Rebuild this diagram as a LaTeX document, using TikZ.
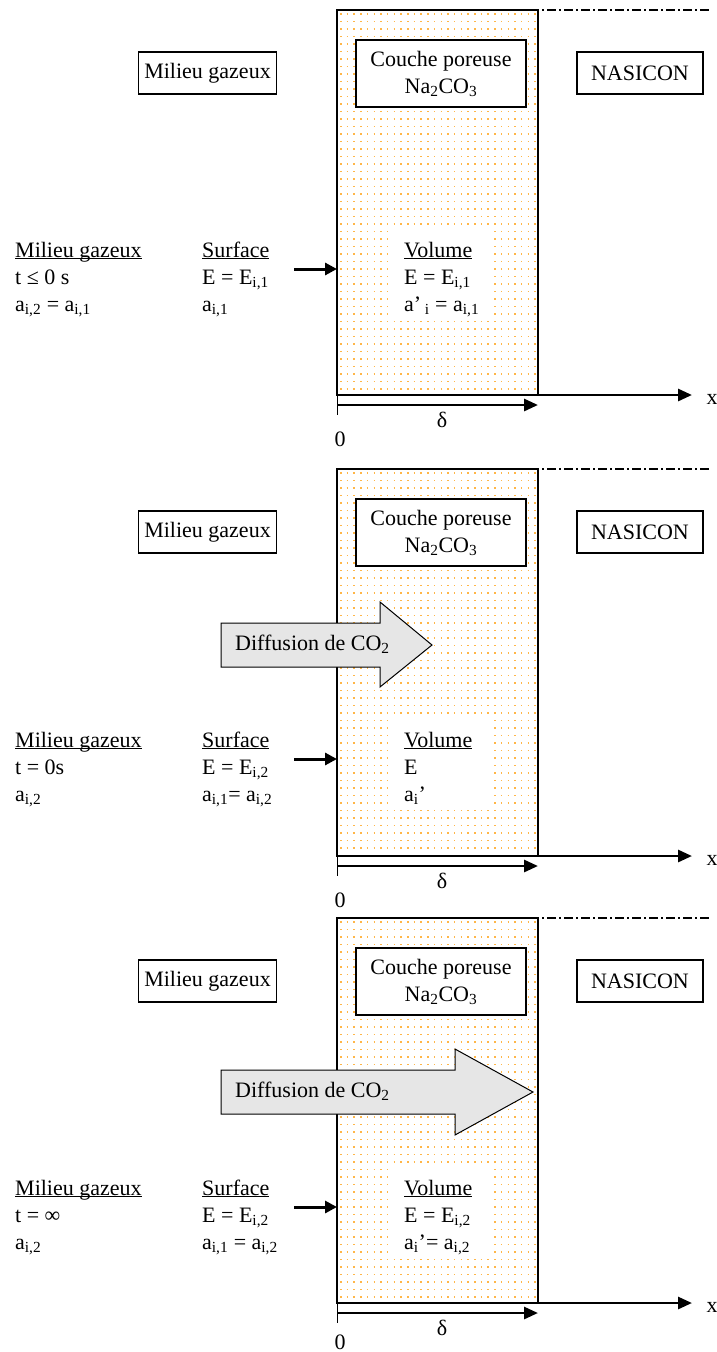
\documentclass[tikz,border=0pt]{standalone}
\usepackage{fontspec}
\setmainfont{Liberation Serif}
\usetikzlibrary{arrows.meta}
\definecolor{pore}{RGB}{255,182,72}
\definecolor{fleche}{RGB}{230,230,230}
\newcommand{\subi}[1]{\textsubscript{#1}}
\newcommand{\souligne}[1]{\underline{\smash{#1}}}

\begin{document}
\begin{tikzpicture}[
    x=1pt, y=-1pt,
    every node/.style={font=\fontsize{22}{27}\selectfont},
    boite/.style={draw, line width=1.2pt, fill=white, align=center, inner sep=0pt},
    bloc/.style={align=left, anchor=base west, inner sep=0pt},
    zone/.style={fill=white},
    couche/.style={draw, line width=1.2pt},
    axe/.style={line width=2.8pt, -{Triangle[length=14pt,width=12pt]}},
    fl/.style={line width=3pt, -{Triangle[length=12pt,width=12pt]}},
    diff/.style={draw, line width=1pt, fill=fleche}
  ]
  \useasboundingbox (0,0) rectangle (716,1352);

  % les trois etats : haut de la couche, axe x, ligne de base du texte, position du 0
  \foreach \p/\T/\A/\B/\Z in {1/10/395/257/44, 2/469/856/747/44, 3/918/1303/1195/39} {
    % couche poreuse pointillee
    \foreach \yy in {4,11.5,...,382}
      \draw[pore, line width=1.2pt, dash pattern=on 1.5pt off 5.2pt] (340,\T+\yy) -- (537,\T+\yy);
    \fill[zone] (389,\B-29) rectangle (489,\B+63);
    \draw[couche] (337,\T) rectangle (538,\A);
    \draw[line width=1.5pt, dash pattern=on 9pt off 3pt on 2pt off 3pt] (530,\T) -- (710,\T);

    % boites du haut
    \node[boite, minimum width=138pt, minimum height=42pt] (mg\p) at (207.5,\T+63) {Milieu gazeux};
    \node[boite, minimum width=170pt, minimum height=67pt] (cp\p) at (441,\T+63.5) {Couche poreuse\\Na\subi{2}CO\subi{3}};
    \node[boite, minimum width=126pt, minimum height=42pt] (nas\p) at (640,\T+63) {NASICON};

    % fleche vers la surface
    \coordinate (s\p) at (294,\B+12);
    \coordinate (e\p) at (337,\B+12);
    \draw[fl] (s\p) -- (e\p);

    % axe x et epaisseur
    \coordinate (o\p) at (337,\A);
    \coordinate (bout\p) at (692,\A);
    \coordinate (t\p) at (337,\A+20);
    \coordinate (da\p) at (337,\A+10);
    \coordinate (db\p) at (538,\A+10);
    \draw[axe] (o\p) -- (bout\p);
    \draw[line width=1pt] (o\p) -- (t\p);
    \draw[axe] (da\p) -- (db\p);
    \node (x\p) at (712,\A+4) {x};
    \node (d\p) at (442,\A+25) {δ};
    \node (z\p) at (340,\A+\Z) {0};
  }

  % t <= 0
  \node[bloc] (gaz1) at (15,311) {\souligne{Milieu gazeux}\\t ≤ 0 s\\a\subi{i,2} = a\subi{i,1}};
  \node[bloc] (surf1) at (202,311) {\souligne{Surface}\\E = E\subi{i,1}\\a\subi{i,1}};
  \node[bloc] (vol1) at (404,311) {\souligne{Volume}\\E = E\subi{i,1}\\a’\,\subi{i} = a\subi{i,1}};

  % t = 0
  \draw[diff] (221,623) -- (380,623) -- (380,602) -- (432,645) -- (380,687) -- (380,667) -- (221,667) -- cycle;
  \node[anchor=base west, inner sep=0pt] (dif2) at (235,650) {Diffusion de CO\subi{2}};
  \node[bloc] (gaz2) at (15,801) {\souligne{Milieu gazeux}\\t = 0s\\a\subi{i,2}};
  \node[bloc] (surf2) at (202,801) {\souligne{Surface}\\E = E\subi{i,2}\\a\subi{i,1}= a\subi{i,2}};
  \node[bloc] (vol2) at (404,801) {\souligne{Volume}\\E\\a\subi{i}’};

  % t = infini
  \draw[diff] (221,1070) -- (455,1070) -- (455,1049) -- (533,1092) -- (455,1135) -- (455,1114) -- (221,1114) -- cycle;
  \node[anchor=base west, inner sep=0pt] (dif3) at (235,1097) {Diffusion de CO\subi{2}};
  \node[bloc] (gaz3) at (15,1249) {\souligne{Milieu gazeux}\\t = ∞\\a\subi{i,2}};
  \node[bloc] (surf3) at (202,1249) {\souligne{Surface}\\E = E\subi{i,2}\\a\subi{i,1} = a\subi{i,2}};
  \node[bloc] (vol3) at (404,1249) {\souligne{Volume}\\E = E\subi{i,2}\\a\subi{i}’= a\subi{i,2}};
\end{tikzpicture}
\end{document}
